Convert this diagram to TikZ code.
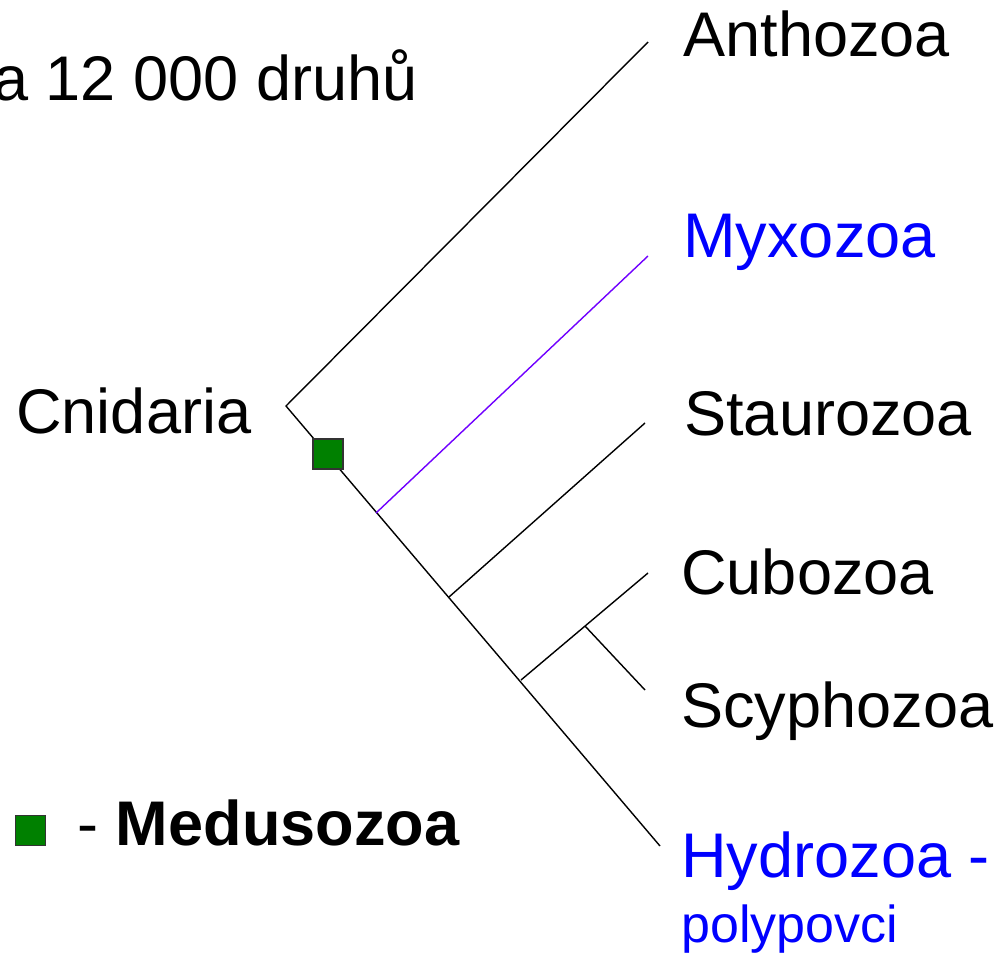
\documentclass[tikz,border=0pt]{standalone}
\usepackage{fontspec}
\setmainfont{Liberation Sans}
\definecolor{myxoline}{RGB}{112,0,255}
\definecolor{medgreen}{RGB}{0,128,0}
\tikzset{
  taxon/.style={anchor=base west, inner sep=0pt, font=\fontsize{35.9}{43}\selectfont},
  branch/.style={line width=0.8pt},
  medbox/.style={draw=black!80, fill=medgreen, line width=0.9pt, minimum size=0.6cm, inner sep=0pt}
}
\begin{document}
\begin{tikzpicture}[x=0.02cm, y=-0.02cm]
        \useasboundingbox (0,0) rectangle (1000,953);

        % Tree points
        \coordinate (root) at (286,406);
        \coordinate (antho) at (648,42);
        \coordinate (myxoB) at (376,513);
        \coordinate (myxo) at (648,256);
        \coordinate (stauB) at (449,597);
        \coordinate (stau) at (645,423);
        \coordinate (cubB) at (521,680);
        \coordinate (cubS) at (585,626);
        \coordinate (cubo) at (648,573);
        \coordinate (scyph) at (645,690);
        \coordinate (hydro) at (660,846);

        % Labels
        \node[taxon, anchor=base east] (count) at (418,100) {a 12 000 druhů};
        \node[taxon] (cnid) at (16,433) {Cnidaria};
        \node[taxon] (anthozoa) at (683,57) {Anthozoa};
        \node[taxon, text=blue] (myxozoa) at (683,257) {Myxozoa};
        \node[taxon] (staurozoa) at (684,435) {Staurozoa};
        \node[taxon] (cubozoa) at (681,594) {Cubozoa};
        \node[taxon] (scyphozoa) at (681,727) {Scyphozoa};
        \node[taxon, text=blue] (hydrozoa) at (681,877) {Hydrozoa -};
        \node[taxon, text=blue, font=\fontsize{29.6}{35}\selectfont] (polyp) at (681,942) {polypovci};

        % Branches
        \draw[branch] (antho) -- (root) -- (hydro);
        \draw[branch, myxoline] (myxoB) -- (myxo);
        \draw[branch] (stauB) -- (stau);
        \draw[branch] (cubB) -- (cubo);
        \draw[branch] (cubS) -- (scyph);

        % Medusozoa marker
        \node[medbox] (mark) at (328,454) {};

        % Legend
        \node[medbox] (legbox) at (30.5,830.5) {};
        \node[taxon] (legend) at (77,845) {- \textbf{Medusozoa}};
\end{tikzpicture}
\end{document}
